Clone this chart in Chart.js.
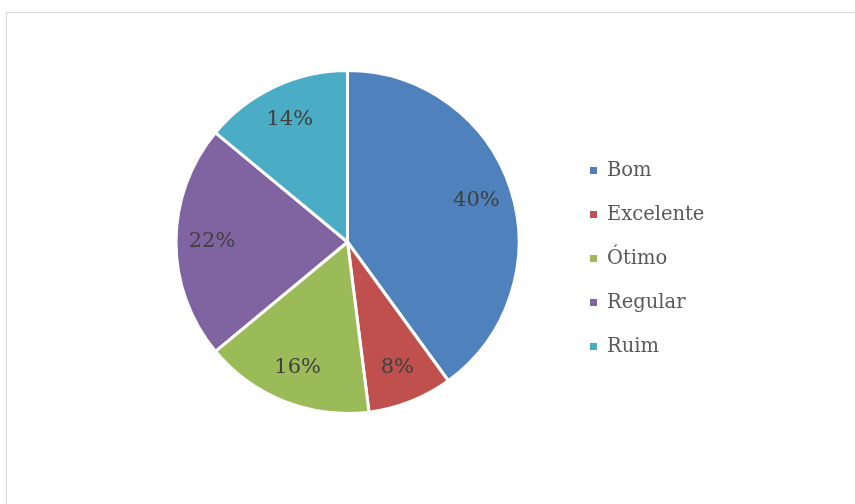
<!DOCTYPE html>
<html>
<head>
<meta charset="utf-8">
<script src="https://cdn.jsdelivr.net/npm/chart.js@4.4.0/dist/chart.umd.min.js"></script>
<style>
  html, body { margin: 0; padding: 0; background: #ffffff; }
  #wrap { position: relative; width: 855px; height: 504px; }
  #frame { position: absolute; left: 6px; top: 12px; width: 900px; height: 600px; border: 1px solid #d9d9d9; box-sizing: border-box; }
  canvas { position: absolute; left: 0; top: 0; }
</style>
</head>
<body>
<div id="wrap">
  <div id="frame"></div>
  <canvas id="c" width="855" height="504"></canvas>
</div>
<script>
const categories = ["Bom", "Excelente", "Ótimo", "Regular", "Ruim"];
const percentValues = [40, 8, 16, 22, 14];
const sliceColors = ["#4F81BD", "#C0504D", "#9BBB59", "#8064A2", "#4BACC6"];

const FONT = '"DejaVu Serif", "Liberation Serif", serif';

const pctLabels = {
  id: 'pctLabels',
  afterDatasetsDraw(chart) {
    const ctx = chart.ctx;
    const meta = chart.getDatasetMeta(0);
    const data = chart.data.datasets[0].data;
    const total = data.reduce((a, b) => a + b, 0);
    ctx.save();
    ctx.font = '21px ' + FONT;
    ctx.fillStyle = '#404040';
    ctx.textAlign = 'center';
    ctx.textBaseline = 'middle';
    meta.data.forEach((arc, i) => {
      const p = arc.getProps(['x', 'y', 'startAngle', 'endAngle', 'outerRadius'], true);
      const mid = (p.startAngle + p.endAngle) / 2;
      const r = p.outerRadius * 0.79;
      const x = p.x + Math.cos(mid) * r;
      const y = p.y + Math.sin(mid) * r;
      ctx.fillText(Math.round(data[i] / total * 100) + '%', x, y);
    });
    ctx.restore();
  }
};

const sideLegend = {
  id: 'sideLegend',
  afterDraw(chart) {
    const ctx = chart.ctx;
    const labels = chart.data.labels;
    const colors = chart.data.datasets[0].backgroundColor;
    ctx.save();
    ctx.font = '19.5px ' + FONT;
    ctx.textBaseline = 'middle';
    ctx.textAlign = 'left';
    const x0 = 590, y0 = 170.5, step = 44;
    labels.forEach((lab, i) => {
      const y = y0 + i * step;
      ctx.fillStyle = colors[i];
      ctx.fillRect(x0, y - 3.5, 7, 7);
      ctx.fillStyle = '#595959';
      ctx.fillText(lab, x0 + 17, y);
    });
    ctx.restore();
  }
};

new Chart(document.getElementById('c'), {
  type: 'pie',
  data: {
    labels: categories,
    datasets: [{
      data: percentValues,
      backgroundColor: sliceColors,
      borderColor: '#ffffff',
      borderWidth: 3
    }]
  },
  options: {
    responsive: false,
    animation: false,
    layout: { padding: { left: 174.5, right: 334.5, top: 69, bottom: 89 } },
    plugins: {
      legend: { display: false },
      tooltip: { enabled: false }
    }
  },
  plugins: [pctLabels, sideLegend]
});
</script>
</body>
</html>
